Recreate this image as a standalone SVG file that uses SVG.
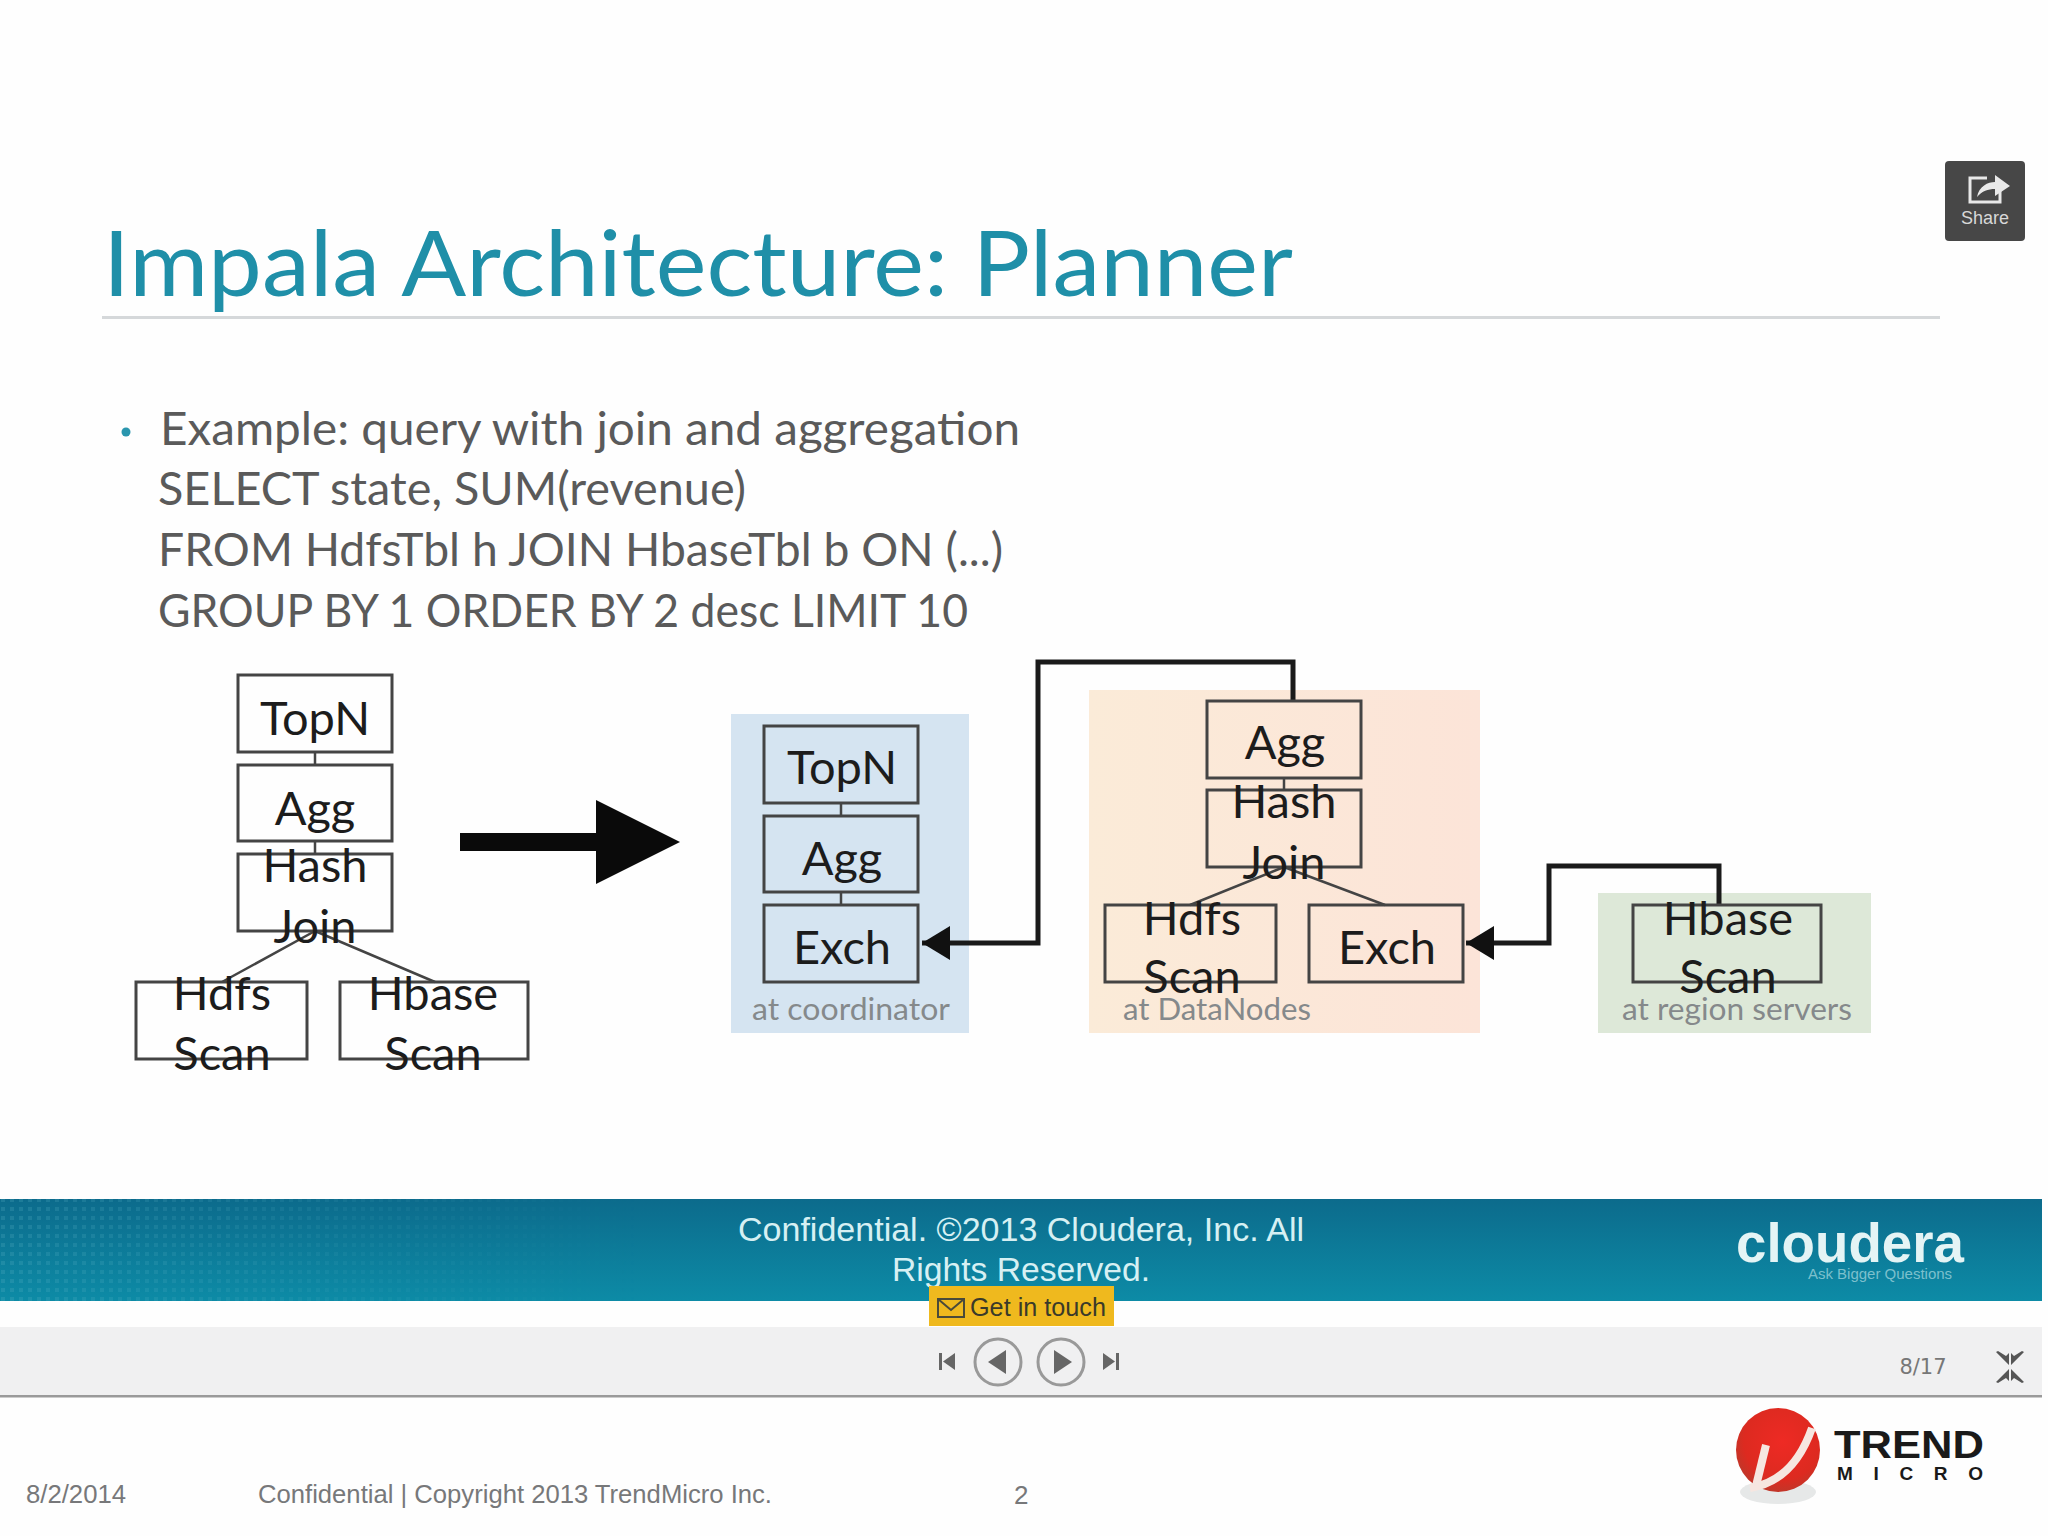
<svg xmlns="http://www.w3.org/2000/svg" width="2048" height="1536" viewBox="0 0 2048 1536">
<defs>
<style>
.b{fill:none;stroke:#444;stroke-width:3}
.n{font-family:"Lato","Liberation Sans",sans-serif;font-size:47px;fill:#1c1c1c;text-anchor:middle}
.l{font-family:"Lato","Liberation Sans",sans-serif;font-size:31px;fill:#85898b}
.q{font-family:"Lato","Liberation Sans",sans-serif;font-size:46px;fill:#5a5a5a}
.f{font-family:"Liberation Sans",Arial,sans-serif;font-size:26px;fill:#77787a}
.c{fill:none;stroke:#1a1a1a;stroke-width:5}
.t{fill:none;stroke:#444;stroke-width:2.5}
.w{font-family:"Liberation Sans",Arial,sans-serif;font-size:33px;fill:#d6f0f3;text-anchor:middle}
</style>
<linearGradient id="band" x1="0" y1="0" x2="0" y2="1"><stop offset="0" stop-color="#0c6b8c"/><stop offset="1" stop-color="#0d8ba6"/></linearGradient>
<linearGradient id="orange" x1="0" y1="0" x2="1" y2="0"><stop offset="0" stop-color="#fbebd8"/><stop offset="1" stop-color="#fce4d8"/></linearGradient>
<radialGradient id="ball" cx="0.55" cy="0.4" r="0.65"><stop offset="0" stop-color="#ee2a24"/><stop offset="0.7" stop-color="#dd2a20"/><stop offset="1" stop-color="#b83a2c"/></radialGradient>
<pattern id="dots" width="9" height="9" patternUnits="userSpaceOnUse"><rect x="1" y="1" width="4" height="4" fill="#5fb4c8" opacity="0.22"/></pattern>
<linearGradient id="fade" x1="0" y1="0" x2="1" y2="0"><stop offset="0" stop-color="#fff" stop-opacity="1"/><stop offset="1" stop-color="#fff" stop-opacity="0"/></linearGradient>
<mask id="fm"><rect x="0" y="1199" width="640" height="102" fill="url(#fade)"/></mask>
<marker id="ah" markerUnits="userSpaceOnUse" markerWidth="30" markerHeight="34" refX="28" refY="17" orient="auto"><path d="M0 0L28 17L0 34Z" fill="#111"/></marker>
</defs>
<rect width="2048" height="1536" fill="#fefefe"/>
<text id="title" x="103" y="296" font-family="Lato,'Liberation Sans',sans-serif" font-size="92" fill="#1f8fa8" textLength="1190" lengthAdjust="spacingAndGlyphs">Impala Architecture: Planner</text>
<rect x="102" y="316" width="1838" height="3" fill="#d5d8da"/>
<g id="query">
<circle cx="126" cy="432" r="4.5" fill="#2a96ae"/>
<text class="q" x="160" y="445" textLength="860" lengthAdjust="spacingAndGlyphs">Example: query with join and aggregation</text>
<text class="q" x="158" y="505" textLength="588" lengthAdjust="spacingAndGlyphs">SELECT state, SUM(revenue)</text>
<text class="q" x="158" y="566" textLength="845" lengthAdjust="spacingAndGlyphs">FROM HdfsTbl h JOIN HbaseTbl b ON (...)</text>
<text class="q" x="158" y="627" textLength="810" lengthAdjust="spacingAndGlyphs">GROUP BY 1 ORDER BY 2 desc LIMIT 10</text>
</g>
<g id="regions">
<rect x="731" y="714" width="238" height="319" fill="#d5e4f1"/>
<rect x="1089" y="690" width="391" height="343" fill="url(#orange)"/>
<rect x="1598" y="893" width="273" height="140" fill="#dde8d8"/>
<text class="l" x="752" y="1020" textLength="198" lengthAdjust="spacingAndGlyphs">at coordinator</text>
<text class="l" x="1123" y="1020" textLength="188" lengthAdjust="spacingAndGlyphs">at DataNodes</text>
<text class="l" x="1622" y="1020" textLength="230" lengthAdjust="spacingAndGlyphs">at region servers</text>
</g>
<g id="connectors">
<path class="t" d="M315 752V765M315 841V854M315 931L222 982M315 931L435 982"/>
<path class="t" d="M841 803V816M841 892V905"/>
<path class="t" d="M1284 778V789M1284 867L1190 905M1284 867L1385 905"/>
<path class="c" d="M1293 701V662H1038V943H922" marker-end="url(#ah)"/>
<path class="c" d="M1719 905V866H1549V943H1466" marker-end="url(#ah)"/>
<path d="M460 833H596V800L680 842L596 884V851H460Z" fill="#0a0a0a"/>
</g>
<g id="l-topn"><rect class="b" x="238" y="675" width="154" height="77"/><text class="n" x="315" y="735">TopN</text></g>
<g id="l-agg"><rect class="b" x="238" y="765" width="154" height="76"/><text class="n" x="315" y="825">Agg</text></g>
<g id="l-hash"><rect class="b" x="238" y="854" width="154" height="77"/><text class="n" x="315" y="882">Hash</text><text class="n" x="315" y="943">Join</text></g>
<g id="l-hdfs"><rect class="b" x="136" y="982" width="171" height="77"/><text class="n" x="222" y="1010">Hdfs</text><text class="n" x="222" y="1070">Scan</text></g>
<g id="l-hbase"><rect class="b" x="340" y="982" width="188" height="77"/><text class="n" x="433" y="1010">Hbase</text><text class="n" x="433" y="1070">Scan</text></g>
<g id="c-topn"><rect class="b" x="764" y="726" width="154" height="77"/><text class="n" x="842" y="784">TopN</text></g>
<g id="c-agg"><rect class="b" x="764" y="816" width="154" height="76"/><text class="n" x="842" y="875">Agg</text></g>
<g id="c-exch"><rect class="b" x="764" y="905" width="154" height="77"/><text class="n" x="842" y="964">Exch</text></g>
<g id="d-agg"><rect class="b" x="1207" y="701" width="154" height="77"/><text class="n" x="1285" y="759">Agg</text></g>
<g id="d-hash"><rect class="b" x="1207" y="790" width="154" height="77"/><text class="n" x="1284" y="818">Hash</text><text class="n" x="1284" y="879">Join</text></g>
<g id="d-hdfs"><rect class="b" x="1105" y="905" width="171" height="77"/><text class="n" x="1192" y="935">Hdfs</text><text class="n" x="1192" y="993">Scan</text></g>
<g id="d-exch"><rect class="b" x="1309" y="905" width="154" height="77"/><text class="n" x="1387" y="964">Exch</text></g>
<g id="r-hbase"><rect class="b" x="1633" y="905" width="188" height="77"/><text class="n" x="1728" y="935">Hbase</text><text class="n" x="1728" y="993">Scan</text></g>
<g id="band-footer">
<rect x="0" y="1199" width="2042" height="102" fill="url(#band)"/>
<rect x="0" y="1199" width="640" height="102" fill="url(#dots)" mask="url(#fm)"/>
<text class="w" x="1021" y="1241" textLength="566" lengthAdjust="spacingAndGlyphs">Confidential. ©2013 Cloudera, Inc. All</text>
<text class="w" x="1021" y="1281" textLength="258" lengthAdjust="spacingAndGlyphs">Rights Reserved.</text>
<text x="1850" y="1262" font-family="'Liberation Sans',Arial,sans-serif" font-size="56" font-weight="700" fill="#e4f4f5" text-anchor="middle" textLength="228" lengthAdjust="spacingAndGlyphs">cloudera</text>
<text x="1880" y="1279" font-family="'Liberation Sans',Arial,sans-serif" font-size="15" fill="#7cc0cd" text-anchor="middle">Ask Bigger Questions</text>
</g>
<g id="player">
<rect x="0" y="1327" width="2042" height="69" fill="#f0f0f1"/>
<rect x="0" y="1395" width="2042" height="2.500" fill="#9a9a9a"/>
<rect x="929" y="1286" width="185" height="40" fill="#efb91e"/>
<g fill="none" stroke="#4a4a3a" stroke-width="2"><rect x="938" y="1299" width="26" height="18"/><path d="M938 1299L951 1310L964 1299"/></g>
<text x="970" y="1316" font-family="'Liberation Sans',Arial,sans-serif" font-size="26" fill="#3a3a2a" textLength="136" lengthAdjust="spacingAndGlyphs">Get in touch</text>
<g fill="#666"><rect x="939" y="1353" width="3" height="17"/><path d="M955 1353V1370L943 1361.500Z"/><path d="M1103 1353V1370L1115 1361.500Z"/><rect x="1116" y="1353" width="3" height="17"/></g>
<circle cx="998" cy="1362" r="23" fill="none" stroke="#999" stroke-width="3"/><path d="M1006 1350V1374L988 1362Z" fill="#666"/>
<circle cx="1061" cy="1362" r="23" fill="none" stroke="#999" stroke-width="3"/><path d="M1054 1350V1374L1072 1362Z" fill="#666"/>
<text x="1923" y="1374" font-family="'DejaVu Sans',sans-serif" font-size="21" fill="#777" text-anchor="middle">8/17</text>
<g fill="#555"><path d="M1996 1352L2009 1365V1353L2006 1356L1998 1351ZM2024 1352L2011 1365V1353L2014 1356L2022 1351ZM1996 1382L2009 1369V1381L2006 1378L1998 1383ZM2024 1382L2011 1369V1381L2014 1378L2022 1383Z"/></g>
</g>
<g id="share">
<rect x="1945" y="161" width="80" height="80" rx="4" fill="#474747"/>
<path d="M1987 178H1970V202H2000V191" fill="none" stroke="#e8e8e8" stroke-width="3"/>
<path d="M1977 197C1979 186 1988 182 1995 182V175L2010 186L1995 196V189C1988 189 1982 191 1977 197Z" fill="#e8e8e8"/>
<text x="1985" y="224" font-family="'Liberation Sans',Arial,sans-serif" font-size="18" fill="#d8d8d8" text-anchor="middle">Share</text>
</g>
<g id="trend-logo">
<ellipse cx="1778" cy="1492" rx="38" ry="12" fill="#e6e8e8"/>
<circle cx="1778" cy="1450" r="42" fill="url(#ball)"/>
<path d="M1750 1488C1775 1484 1798 1468 1812 1428" fill="none" stroke="#f6e6e0" stroke-width="8"/>
<path d="M1756 1486L1766 1445" fill="none" stroke="#f6e6e0" stroke-width="8"/>
<text x="1834" y="1458" font-family="'Liberation Sans',Arial,sans-serif" font-size="38" font-weight="700" fill="#1a1a1a" textLength="150" lengthAdjust="spacingAndGlyphs">TREND</text>
<text x="1837" y="1480" font-family="'Liberation Sans',Arial,sans-serif" font-size="19" font-weight="700" fill="#1a1a1a" textLength="146">MICRO</text>
</g>
<g id="footer">
<text class="f" x="26" y="1503" textLength="100" lengthAdjust="spacingAndGlyphs">8/2/2014</text>
<text class="f" x="258" y="1503" textLength="514" lengthAdjust="spacingAndGlyphs">Confidential | Copyright 2013 TrendMicro Inc.</text>
<text class="f" x="1014" y="1504">2</text>
</g>
</svg>
